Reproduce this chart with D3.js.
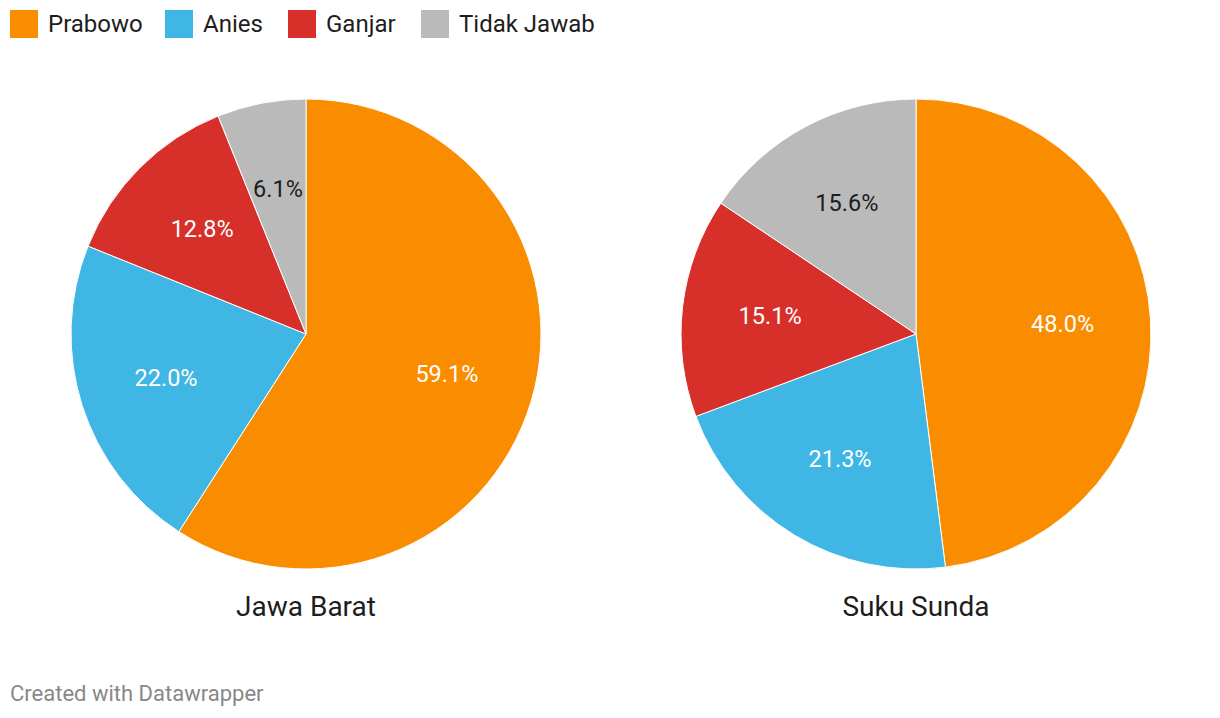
<!DOCTYPE html>
<html><head><meta charset="utf-8">
<script src="https://cdn.jsdelivr.net/npm/d3@7"></script>
<style>body{margin:0;background:#fff;font-family:Roboto,sans-serif;}</style>
</head><body>
<svg id="c" width="1220" height="718"></svg>
<script>
const categories = ["Prabowo", "Anies", "Ganjar", "Tidak Jawab"];
const colors = ["#fa8c00", "#3fb6e3", "#d7302a", "#bababa"];
const labelColors = ["#fff", "#fff", "#fff", "#1d1d1d"];
const chartTitles = ["Jawa Barat", "Suku Sunda"];
const jawaBarat = [59.1, 22.0, 12.8, 6.1];
const sukuSunda = [48.0, 21.3, 15.1, 15.6];
const seriesList = [jawaBarat, sukuSunda];

const svg = d3.select("#c");
// legend
const legendX = [10, 165, 288, 421];
const lg = svg.append("g");
categories.forEach((c, i) => {
  lg.append("rect").attr("x", legendX[i]).attr("y", 10).attr("width", 28).attr("height", 28).attr("fill", colors[i]);
  lg.append("text").attr("x", legendX[i] + 38).attr("y", 32).attr("font-size", 24).attr("fill", "#1d1d1d").text(c);
});

const R = 235;
const centers = [[306, 334], [916, 334]];
const pie = d3.pie().sort(null).value(d => d);
const arc = d3.arc().innerRadius(0).outerRadius(R);
const labelArc = d3.arc().innerRadius(R * 0.625).outerRadius(R * 0.625);

seriesList.forEach((vals, k) => {
  const g = svg.append("g").attr("transform", `translate(${centers[k][0]},${centers[k][1]})`);
  const arcs = pie(vals);
  g.selectAll("path").data(arcs).join("path")
    .attr("d", arc).attr("fill", (d, i) => colors[i])
    .attr("stroke", "#fff").attr("stroke-width", 1);
  g.selectAll("text.l").data(arcs).join("text").attr("class", "l")
    .attr("transform", d => `translate(${labelArc.centroid(d)})`)
    .attr("text-anchor", "middle").attr("dy", "0.3em")
    .attr("font-size", 23.5).attr("fill", (d, i) => labelColors[i])
    .text(d => d.data.toFixed(1) + "%");
  g.append("text").attr("x", 0).attr("y", 282)
    .attr("text-anchor", "middle").attr("font-size", 28).attr("fill", "#1d1d1d")
    .text(chartTitles[k]);
});

svg.append("text").attr("x", 10).attr("y", 701).attr("font-size", 22).attr("fill", "#888").text("Created with Datawrapper");
</script>
</body></html>
